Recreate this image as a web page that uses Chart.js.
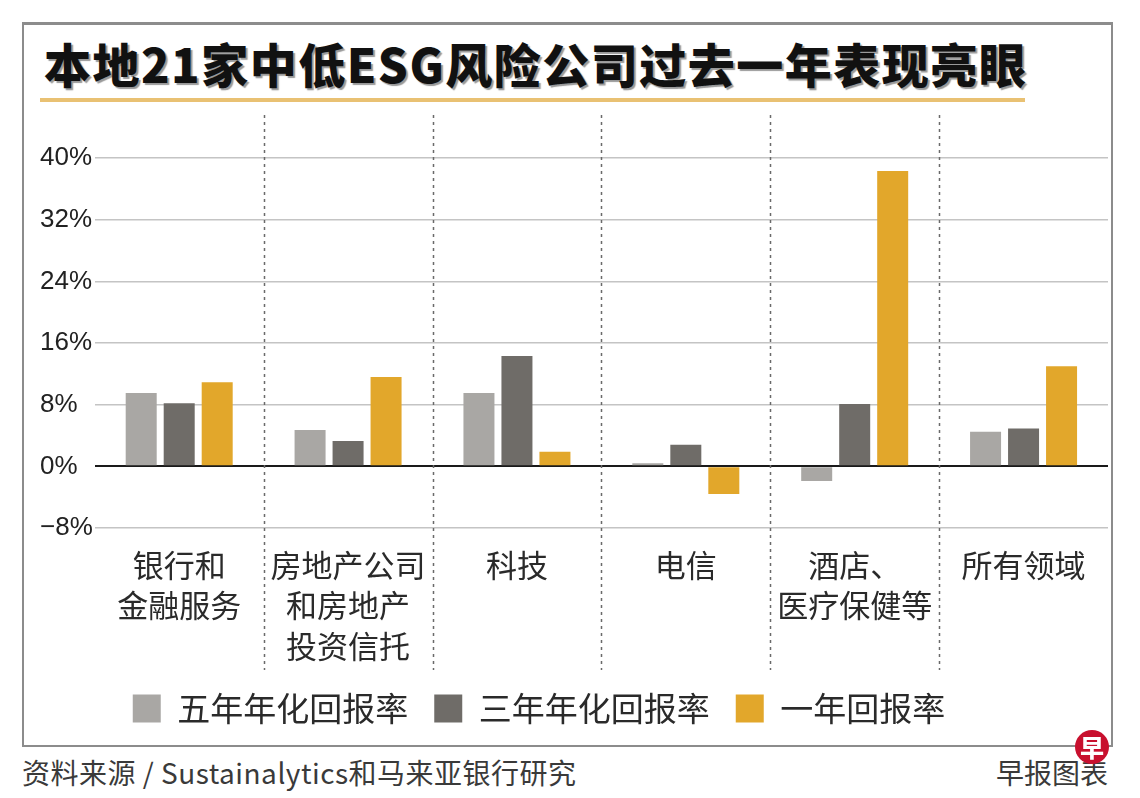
<!DOCTYPE html>
<html>
<head>
<meta charset="utf-8">
<script src="https://cdn.jsdelivr.net/npm/chart.js@4.4.1/dist/chart.umd.min.js"></script>
<style>
    html, body { margin: 0; padding: 0; background: #fff; }
    body { width: 1140px; height: 798px; position: relative; overflow: hidden; font-family: 'Noto Sans CJK SC', sans-serif; }
    .frame { position: absolute; left: 22px; top: 22px; width: 1091px; height: 725px; box-sizing: border-box; border: 2px solid #8c8c8c; border-top-width: 3px; }
    .title { position: absolute; left: 44px; top: 30px; font-size: 47px; font-weight: 900; color: #111; letter-spacing: 1.5px; white-space: nowrap; text-shadow: 2px 2px 1px #999; line-height: 66px; }
    .rule { position: absolute; left: 40px; top: 98px; width: 985px; height: 4px; background: #e9c173; }
    .wrap { position: absolute; left: 24px; top: 110px; width: 1086px; height: 625px; }
    .source { position: absolute; left: 22px; top: 752px; font-size: 28px; letter-spacing: 0.5px; color: #3a3a3a; white-space: nowrap; }
    .brand { position: absolute; right: 32px; top: 752px; font-size: 28px; color: #3a3a3a; white-space: nowrap; }
    .logo { position: absolute; left: 1075px; top: 730px; width: 34px; height: 34px; border-radius: 50%; background: #c8102e; color: #fff; font-size: 24px; font-weight: 900; line-height: 34px; text-align: center; }
</style>
</head>
<body>
<div class="frame"></div>
<div class="title">本地21家中低ESG风险公司过去一年表现亮眼</div>
<div class="rule"></div>
<div class="wrap"><canvas id="esgChart"></canvas></div>
<div class="source">资料来源 / Sustainalytics和马来亚银行研究</div>
<div class="brand">早报图表</div>
<div class="logo">早</div>

<script>
const categories = [['银行和', '金融服务'], ['房地产公司', '和房地产', '投资信托'], '科技', '电信', ['酒店、', '医疗保健等'], '所有领域'];
const seriesNames = ['五年年化回报率', '三年年化回报率', '一年回报率'];
const fiveYear = [9.5, 4.7, 9.5, 0.4, -1.9, 4.5];
const threeYear = [8.2, 3.3, 14.3, 2.8, 8.1, 4.9];
const oneYear = [10.9, 11.6, 1.9, -3.6, 38.3, 13.0];
const yMin = -8, yMax = 40, yStep = 8;

const colors = ['#a9a7a4', '#6f6c68', '#e2a72b'];

// dotted separators between sectors, running through the label area
const dividers = {
    id: 'dividers',
    afterDraw(chart) {
        const x = chart.scales.x;
        const ctx = chart.ctx;
        ctx.save();
        ctx.strokeStyle = '#6a6a6a';
        ctx.lineWidth = 1.5;
        ctx.setLineDash([3, 4]);
        for (let i = 1; i < categories.length; i++) {
            const px = Math.round((x.getPixelForValue(i - 1) + x.getPixelForValue(i)) / 2) + 0.5;
            ctx.beginPath();
            ctx.moveTo(px, 5);
            ctx.lineTo(px, 560);
            ctx.stroke();
        }
        ctx.restore();
    }
};

// legend sits a bit left of centre in the original
const legendShift = {
    id: 'legendShift',
    afterLayout(chart) {
        chart.legend.left -= 35;
        chart.legend.right -= 35;
    }
};

new Chart(document.getElementById('esgChart'), {
    type: 'bar',
    data: {
        labels: categories,
        datasets: [
            { label: seriesNames[0], data: fiveYear, backgroundColor: colors[0] },
            { label: seriesNames[1], data: threeYear, backgroundColor: colors[1] },
            { label: seriesNames[2], data: oneYear, backgroundColor: colors[2] }
        ]
    },
    options: {
        responsive: true,
        maintainAspectRatio: false,
        animation: false,
        categoryPercentage: 0.675,
        barPercentage: 0.816,
        layout: { padding: { top: 48, left: 16, right: 2, bottom: 0 } },
        plugins: {
            tooltip: { enabled: false },
            legend: {
                position: 'bottom',
                labels: {
                    boxWidth: 28, boxHeight: 28, padding: 26,
                    color: '#2a2a2a',
                    font: { family: "'Noto Sans CJK SC', sans-serif", size: 33 }
                }
            }
        },
        scales: {
            x: {
                grid: { display: false, drawTicks: false },
                border: { display: false },
                afterFit: s => { s.height = 138; },
                ticks: {
                    padding: 17,
                    color: '#2a2a2a',
                    maxRotation: 0,
                    autoSkip: false,
                    font: { family: "'Noto Sans CJK SC', sans-serif", size: 31, lineHeight: 1.3 }
                }
            },
            y: {
                min: yMin, max: yMax,
                border: { display: false },
                grid: {
                    drawTicks: false,
                    color: c => c.tick.value === 0 ? '#1a1a1a' : '#c4c4c4',
                    lineWidth: c => c.tick.value === 0 ? 2 : 1.5
                },
                ticks: {
                    stepSize: yStep,
                    padding: 1,
                    crossAlign: 'far',
                    color: '#222',
                    font: { family: "'Liberation Sans', sans-serif", size: 26 },
                    callback: v => (v < 0 ? '\u2212' + Math.abs(v) : v) + '%'
                }
            }
        }
    },
    plugins: [dividers, legendShift]
});
</script>
</body>
</html>
